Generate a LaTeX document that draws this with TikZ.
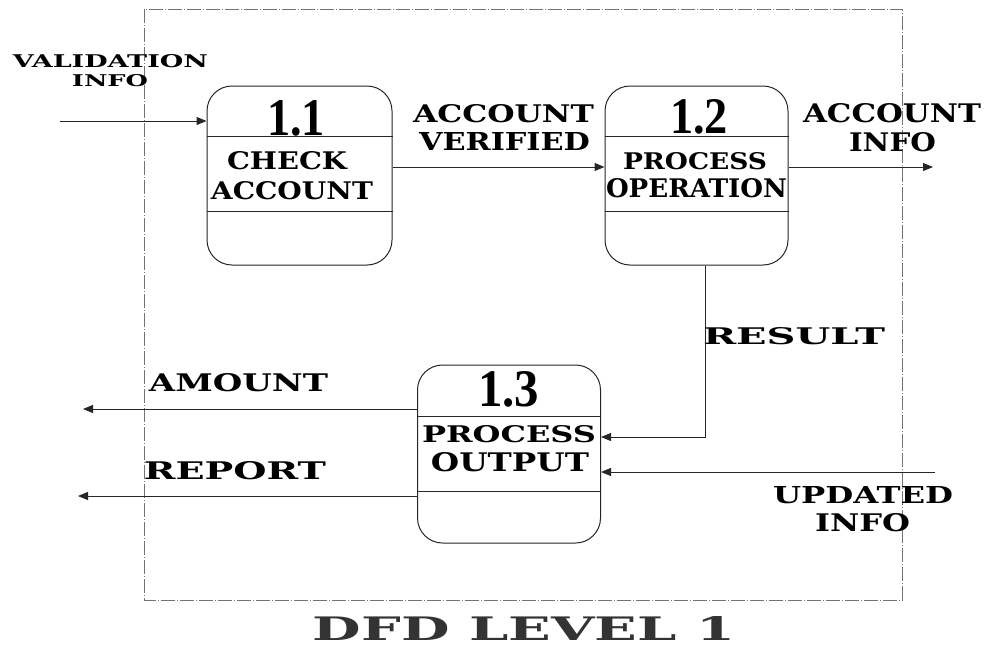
\documentclass[tikz,border=0pt]{standalone}
\usepackage{fontspec}
\setmainfont{DejaVu Serif}
\newfontfamily\numfont{Liberation Serif}
\usetikzlibrary{arrows.meta,calc}
\newcommand{\lblfit}[3]{\resizebox{#1pt}{#2pt}{\bfseries #3}}
\newcommand{\numfit}[3]{\resizebox{#1pt}{#2pt}{\numfont\bfseries #3}}
\begin{document}
\begin{tikzpicture}[x=1pt,y=-1pt,
  proc/.style={draw=black!85,line width=1pt,rounded corners=25pt,inner sep=0pt},
  lbl/.style={inner sep=0pt,anchor=center,text=black},
  flow/.style={draw=black!85,line width=1pt,-{Triangle[length=10pt,width=8pt]}},
  divider/.style={draw=black!85,line width=0.9pt},
  boundary/.style={draw=black!55,line width=0.6pt,dash pattern=on 14pt off 2pt on 1pt off 2pt}]
\useasboundingbox[fill=white] (0,0) rectangle (990,646);
% system boundary
\draw[boundary] (144,9) rectangle (902,600);
% processes
\node[proc,minimum width=185pt,minimum height=179pt] (b1) at (299.5,175.5) {};
\node[proc,minimum width=183pt,minimum height=179pt] (b2) at (696.5,175.5) {};
\node[proc,minimum width=183pt,minimum height=178pt] (b3) at (509,454) {};
% dividers
\foreach \b/\t/\u in {b1/51/126, b2/51/126, b3/52/127}{
  \draw[divider] ($(\b.north west)+(0,\t)$) -- ($(\b.north east)+(0,\t)$);
  \draw[divider] ($(\b.north west)+(0,\u)$) -- ($(\b.north east)+(0,\u)$);
}
% process texts
\node[lbl] (n11) at (296,118) {\numfit{58}{35}{1.1}};
\node[lbl] (t11a) at (287,161) {\lblfit{120}{18}{CHECK}};
\node[lbl] (t11b) at (292,191) {\lblfit{162}{18}{ACCOUNT}};
\node[lbl] (n12) at (699,117) {\numfit{58}{34}{1.2}};
\node[lbl] (t12a) at (695,161.5) {\lblfit{144}{17}{PROCESS}};
\node[lbl] (t12b) at (696.5,188) {\lblfit{181}{19}{OPERATION}};
\node[lbl] (n13) at (508.5,389.5) {\numfit{61}{35}{1.3}};
\node[lbl] (t13a) at (509,434.5) {\lblfit{174}{17}{PROCESS}};
\node[lbl] (t13b) at (510,462.5) {\lblfit{158}{19}{OUTPUT}};
% flow labels
\node[lbl] (l1a) at (110.5,61.5) {\lblfit{195}{13}{VALIDATION}};
\node[lbl] (l1b) at (110,81) {\lblfit{76}{12}{INFO}};
\node[lbl] (l2a) at (503.5,114) {\lblfit{181}{18}{ACCOUNT}};
\node[lbl] (l2b) at (504.5,141) {\lblfit{171}{18}{VERIFIED}};
\node[lbl] (l3a) at (892,113) {\lblfit{178}{19}{ACCOUNT}};
\node[lbl] (l3b) at (892.5,142) {\lblfit{87}{19}{INFO}};
\node[lbl] (l4) at (794,336.5) {\lblfit{182}{17}{RESULT}};
\node[lbl] (l5) at (238.5,382.5) {\lblfit{179}{18}{AMOUNT}};
\node[lbl] (l6) at (235,471) {\lblfit{182}{18}{REPORT}};
\node[lbl] (l7a) at (863,495) {\lblfit{180}{17}{UPDATED}};
\node[lbl] (l7b) at (862.5,522.5) {\lblfit{95}{18}{INFO}};
% title
\node[lbl,text=black!80] (title) at (524,628) {\lblfit{422}{24}{DFD LEVEL 1}};
% connector coordinates
\coordinate (vin) at (60,121);
\coordinate (yv) at (0,167);
\coordinate (aout) at (933,167);
\coordinate (rc) at (705,437);
\coordinate (uin) at (935,472);
\coordinate (amt) at (83,409);
\coordinate (rep) at (78,496);
% flows
\draw[flow] (vin) -- (vin -| b1.west);
\draw[flow] (b1.east |- yv) -- (b2.west |- yv);
\draw[flow] (b2.east |- yv) -- (aout);
\draw[flow] (b2.south -| rc) -- (rc) -- (rc -| b3.east);
\draw[flow] (uin) -- (uin -| b3.east);
\draw[flow] (amt -| b3.west) -- (amt);
\draw[flow] (rep -| b3.west) -- (rep);
\end{tikzpicture}
\end{document}
